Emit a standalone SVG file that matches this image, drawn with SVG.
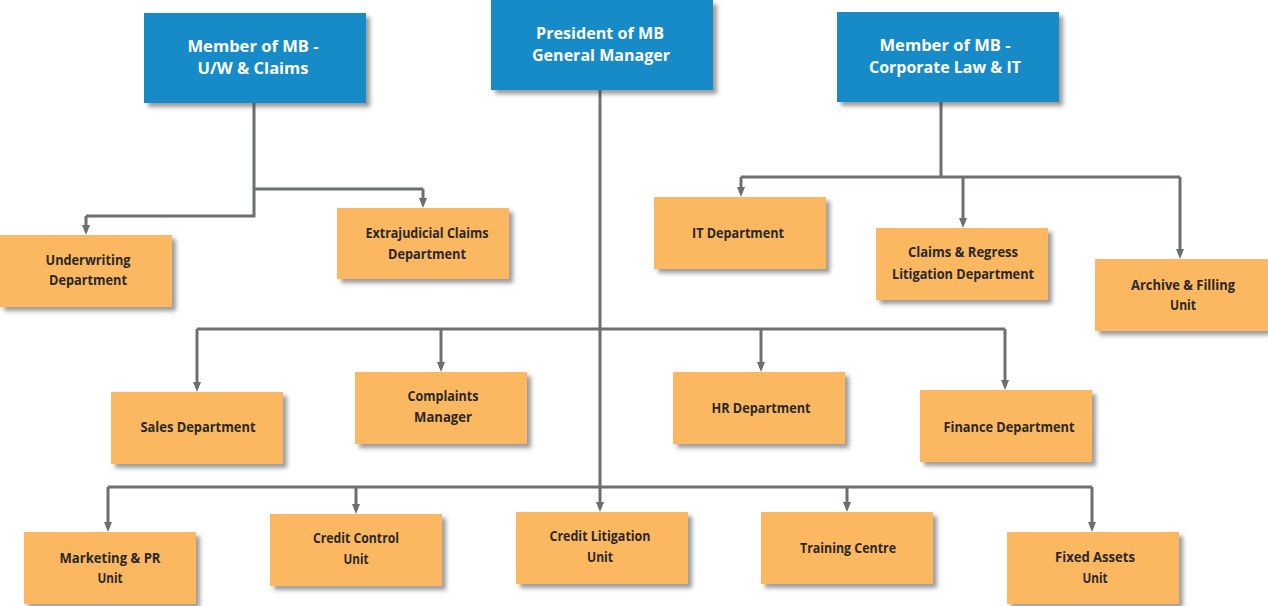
<svg xmlns="http://www.w3.org/2000/svg" width="1268" height="606" viewBox="0 0 1268 606">
<style>
.blue{fill:#148bc8;filter:url(#sh)}
.org{fill:#fbb860;filter:url(#sh)}
.tw{fill:#ffffff;font-family:"Open Sans","Liberation Sans",sans-serif;font-weight:700;font-size:16px;text-anchor:middle}
.td{fill:#2a2826;font-family:"Open Sans","Liberation Sans",sans-serif;font-weight:700;font-size:15px;text-anchor:middle}
.ln{fill:none;stroke:#6d6e71;stroke-width:3}
.ar{fill:none;stroke:#6d6e71;stroke-width:3;marker-end:url(#ah)}
</style>
<defs>
<filter id="sh" x="-10%" y="-10%" width="130%" height="140%">
<feDropShadow dx="4" dy="4" stdDeviation="2" flood-color="#4a4a4a" flood-opacity="0.55"/>
</filter>
<marker id="ah" viewBox="0 0 10 8" refX="6" refY="4" markerWidth="10" markerHeight="8" markerUnits="userSpaceOnUse" orient="auto">
<path d="M0,0 L10,4 L0,8 z" fill="#6d6e71"/>
</marker>
</defs>
<rect width="1268" height="606" fill="#ffffff"/>
<g id="connectors">
<path class="ln" d="M254 103 V216 H86"/>
<path class="ar" d="M86 216 V231"/>
<path class="ln" d="M254 189 H423"/>
<path class="ar" d="M423 189 V204"/>
<path class="ln" d="M941 101 V177"/>
<path class="ln" d="M741 177 H1180"/>
<path class="ar" d="M741 177 V193"/>
<path class="ar" d="M963 177 V224"/>
<path class="ar" d="M1180 177 V255"/>
<path class="ar" d="M600 90 V508"/>
<path class="ln" d="M197 329 H1005"/>
<path class="ar" d="M197 329 V388"/>
<path class="ar" d="M441 329 V368"/>
<path class="ar" d="M761 329 V368"/>
<path class="ar" d="M1005 329 V386"/>
<path class="ln" d="M108 487 H1092"/>
<path class="ar" d="M108 487 V528"/>
<path class="ar" d="M356 487 V510"/>
<path class="ar" d="M847 487 V508"/>
<path class="ar" d="M1092 487 V528"/>
</g>
<g id="member-uw">
<rect class="blue" x="144" y="13" width="222" height="90"/>
<text class="tw" x="253" y="52" textLength="131" lengthAdjust="spacingAndGlyphs">Member of MB -</text>
<text class="tw" x="253" y="74" textLength="111" lengthAdjust="spacingAndGlyphs">U/W &amp; Claims</text>
</g>
<g id="president">
<rect class="blue" x="491" y="0" width="222" height="90"/>
<text class="tw" x="600" y="39" textLength="128" lengthAdjust="spacingAndGlyphs">President of MB</text>
<text class="tw" x="601" y="61" textLength="138" lengthAdjust="spacingAndGlyphs">General Manager</text>
</g>
<g id="member-corp">
<rect class="blue" x="837" y="12" width="222" height="90"/>
<text class="tw" x="945" y="51" textLength="131" lengthAdjust="spacingAndGlyphs">Member of MB -</text>
<text class="tw" x="945" y="73" textLength="152" lengthAdjust="spacingAndGlyphs">Corporate Law &amp; IT</text>
</g>
<g id="underwriting">
<rect class="org" x="0" y="235" width="172" height="72"/>
<text class="td" x="88" y="265" textLength="85" lengthAdjust="spacingAndGlyphs">Underwriting</text>
<text class="td" x="88" y="285" textLength="78" lengthAdjust="spacingAndGlyphs">Department</text>
</g>
<g id="extrajudicial">
<rect class="org" x="337" y="208" width="172" height="71"/>
<text class="td" x="427" y="238" textLength="123" lengthAdjust="spacingAndGlyphs">Extrajudicial Claims</text>
<text class="td" x="427" y="259" textLength="78" lengthAdjust="spacingAndGlyphs">Department</text>
</g>
<g id="it-dept">
<rect class="org" x="654" y="197" width="172" height="72"/>
<text class="td" x="738" y="238" textLength="92" lengthAdjust="spacingAndGlyphs">IT Department</text>
</g>
<g id="claims-regress">
<rect class="org" x="876" y="228" width="172" height="72"/>
<text class="td" x="963" y="257" textLength="110" lengthAdjust="spacingAndGlyphs">Claims &amp; Regress</text>
<text class="td" x="963" y="279" textLength="142" lengthAdjust="spacingAndGlyphs">Litigation Department</text>
</g>
<g id="archive">
<rect class="org" x="1095" y="259" width="173" height="72"/>
<text class="td" x="1183" y="290" textLength="104" lengthAdjust="spacingAndGlyphs">Archive &amp; Filling</text>
<text class="td" x="1183" y="310" textLength="26" lengthAdjust="spacingAndGlyphs">Unit</text>
</g>
<g id="sales">
<rect class="org" x="111" y="392" width="172" height="72"/>
<text class="td" x="198" y="432" textLength="115" lengthAdjust="spacingAndGlyphs">Sales Department</text>
</g>
<g id="complaints">
<rect class="org" x="355" y="372" width="172" height="72"/>
<text class="td" x="443" y="401" textLength="71" lengthAdjust="spacingAndGlyphs">Complaints</text>
<text class="td" x="443" y="422" textLength="58" lengthAdjust="spacingAndGlyphs">Manager</text>
</g>
<g id="hr">
<rect class="org" x="673" y="372" width="172" height="72"/>
<text class="td" x="761" y="413" textLength="99" lengthAdjust="spacingAndGlyphs">HR Department</text>
</g>
<g id="finance">
<rect class="org" x="920" y="390" width="172" height="72"/>
<text class="td" x="1009" y="432" textLength="131" lengthAdjust="spacingAndGlyphs">Finance Department</text>
</g>
<g id="marketing">
<rect class="org" x="24" y="532" width="172" height="72"/>
<text class="td" x="110" y="563" textLength="101" lengthAdjust="spacingAndGlyphs">Marketing &amp; PR</text>
<text class="td" x="110" y="583" textLength="25" lengthAdjust="spacingAndGlyphs">Unit</text>
</g>
<g id="credit-control">
<rect class="org" x="270" y="514" width="172" height="72"/>
<text class="td" x="356" y="543" textLength="86" lengthAdjust="spacingAndGlyphs">Credit Control</text>
<text class="td" x="356" y="564" textLength="25" lengthAdjust="spacingAndGlyphs">Unit</text>
</g>
<g id="credit-litigation">
<rect class="org" x="516" y="512" width="172" height="72"/>
<text class="td" x="600" y="541" textLength="101" lengthAdjust="spacingAndGlyphs">Credit Litigation</text>
<text class="td" x="600" y="562" textLength="26" lengthAdjust="spacingAndGlyphs">Unit</text>
</g>
<g id="training">
<rect class="org" x="761" y="512" width="172" height="72"/>
<text class="td" x="848" y="553" textLength="96" lengthAdjust="spacingAndGlyphs">Training Centre</text>
</g>
<g id="fixed-assets">
<rect class="org" x="1007" y="532" width="172" height="72"/>
<text class="td" x="1095" y="562" textLength="80" lengthAdjust="spacingAndGlyphs">Fixed Assets</text>
<text class="td" x="1095" y="583" textLength="25" lengthAdjust="spacingAndGlyphs">Unit</text>
</g>
</svg>
